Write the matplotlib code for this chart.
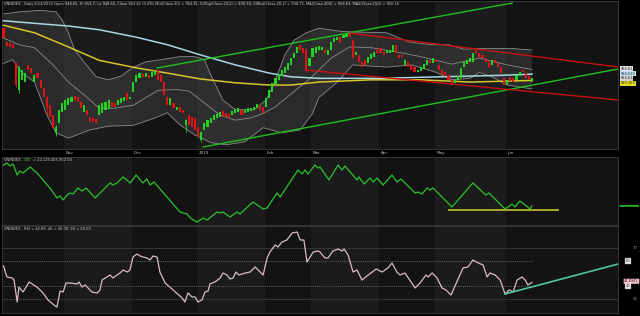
import numpy as np
import matplotlib
matplotlib.use("Agg")
import matplotlib.pyplot as plt
import matplotlib.transforms as mtransforms

# ---- VNINDEX daily candles, early Oct 2018 -> 14 Jun 2019 ----
opens = [1020, 1002, 1000, 999, 973, 937, 951, 948, 971, 967,
         948, 960, 951, 940, 928, 917, 904, 880, 893, 908,
         911, 917, 921, 929, 928, 921, 908, 911, 901, 900,
         898, 904, 906, 911, 912, 921, 920, 917, 920, 923,
         933, 925, 935, 948, 953, 959, 955, 957, 955, 957,
         964, 957, 948, 928, 917, 920, 911, 915, 911, 890,
         904, 901, 900, 888, 871, 884, 888, 893, 897, 900,
         901, 909, 906, 905, 904, 906, 908, 911, 907, 908,
         909, 911, 913, 917, 915, 915, 926, 935, 944, 951,
         956, 960, 964, 971, 980, 987, 998, 994, 991, 969,
         981, 987, 991, 991, 991, 984, 991, 1002, 1004, 1008,
         1007, 1008, 1014, 1004, 984, 984, 975, 977, 973, 979,
         981, 991, 993, 988, 987, 987, 988, 997, 984, 984,
         971, 975, 971, 968, 961, 963, 966, 971, 977, 973,
         978, 971, 964, 961, 957, 951, 947, 951, 953, 968,
         972, 975, 975, 993, 987, 984, 980, 975, 971, 977,
         973, 968, 953, 944, 955, 953, 951, 956, 964, 960,
         956, 948.65]
closes = [1007, 996, 995, 994, 944, 968, 964, 960, 964, 960,
          957, 953, 940, 928, 915, 901, 887, 888, 911, 920,
          924, 927, 928, 924, 921, 913, 917, 904, 895, 895,
          893, 917, 920, 921, 924, 914, 915, 924, 927, 928,
          924, 928, 948, 957, 960, 955, 960, 953, 962, 963,
          951, 948, 931, 917, 927, 913, 915, 908, 906, 897,
          891, 888, 884, 874, 881, 893, 897, 900, 904, 905,
          908, 903, 901, 900, 909, 912, 913, 904, 911, 913,
          913, 915, 919, 911, 907, 927, 937, 947, 953, 959,
          964, 968, 973, 980, 987, 995, 991, 987, 964, 980,
          993, 995, 996, 995, 987, 991, 1002, 1007, 1008, 1002,
          1011, 1014, 1008, 981, 988, 975, 968, 971, 981, 985,
          988, 987, 987, 984, 991, 991, 997, 987, 980, 981,
          977, 968, 964, 961, 964, 968, 972, 977, 973, 980,
          975, 964, 957, 957, 951, 944, 951, 956, 967, 975,
          977, 980, 987, 987, 981, 980, 975, 968, 977, 973,
          968, 960, 944, 951, 949, 948, 957, 961, 961, 953,
          951, 953.61]
wick_idx = [4, 5, 14, 17, 59, 64, 98, 113]
wick_lo = [941, 934, 905, 876, 881, 868, 962, 979]
wick_hi = [975, 970, 930, 891, 899, 882, 994, 1006]

month_start = [19.5, 41.5, 62.5, 84.5, 99.5, 121.5, 139.5, 162.5]
month_names = ["Nov", "Dec", "2019", "Feb", "Mar", "Apr", "May", "Jun"]

# ---- Bollinger (20,2) and moving averages ----
bb_top_x = [0, 5, 12, 17, 19, 21, 23, 26, 30, 34, 38, 42, 46, 51, 57, 62, 65, 67, 71, 75,
            81, 85, 88, 91, 94, 98, 102, 109, 113, 124, 131, 134, 139, 144, 149, 154, 164, 171]
bb_top = [1039, 1042, 1044, 1042, 1031, 1014, 991, 975, 955, 951, 956, 968, 975, 978, 982, 982, 978, 958, 924, 911,
          911, 924, 951, 984, 1004, 1014, 1020, 1016, 1015, 1014, 1002, 1000, 998, 998, 992, 993, 993, 990.9]
bb_mid_x = [0, 5, 10, 16, 21, 26, 31, 36, 42, 46, 50, 56, 60, 65, 70, 75, 80, 84, 88, 93,
            99, 106, 112, 119, 129, 135, 145, 154, 163, 171]
bb_mid = [1007, 998, 994, 971, 948, 931, 913, 913, 917, 927, 937, 938, 936, 920, 904, 897, 900, 906, 915, 932,
          952, 980, 995, 994, 987, 982, 972, 980, 971, 964.81]
bb_bot_x = [0, 3, 6, 10, 14, 17, 21, 28, 34, 42, 49, 53, 57, 62, 67, 72, 78, 84, 90, 96,
            100, 102, 108, 113, 124, 132, 140, 145, 151, 154, 158, 163, 171]
bb_bot = [973, 978, 960, 948, 904, 880, 873, 884, 889, 890, 900, 907, 891, 877, 867, 864, 868, 887, 880, 884,
          906, 927, 948, 971, 968, 971, 961, 951, 953, 961, 955, 944, 938.72]
ma200_x = [0, 21, 31, 43, 53, 64, 75, 86, 93, 102, 122, 141, 161, 171]
ma200 = [1030, 1023, 1018, 1008, 998, 984, 971, 960, 955, 953, 953, 955, 957, 958.63]
ma150_x = [0, 10, 21, 31, 43, 53, 64, 75, 86, 93, 102, 119, 135, 151, 171]
ma150 = [1024, 1014, 995, 977, 967, 960, 952, 947, 944, 944, 948, 951, 951, 948, 950.16]

# ---- drawn trend lines (bar index, price) ----
green_up_x, green_up = [49.7, 164.6], [966.8, 1053.8]
green_lo_x, green_lo = [64.6, 198.9], [861.1, 965.5]
red_up_x, red_up = [112.1, 198.9], [1013.6, 968.2]
red_lo_x, red_lo = [97.9, 198.9], [964.1, 924.0]

# ---- OBV (billions) ----
obv_x = [0, 1.1, 2.1, 3.1, 4.4, 5.3, 6.3, 8.6, 10.8, 12.8, 15, 17.3, 18.3, 19.3, 20.6, 21.5, 22.5, 24.1,
         25.4, 26.7, 29.6, 34.5, 35.4, 36.7, 38.7, 41, 42.9, 45.1, 46.4, 47.4, 48.7, 52.9, 57.1, 59.4,
         60.4, 62.6, 64.6, 65.9, 69.1, 70.1, 71, 73.3, 75.6, 76.5, 80.7, 84, 85.3, 88.5, 89.5, 95.3,
         96.6, 97.6, 98.5, 100.8, 101.8, 102.4, 105.3, 108.3, 109.5, 110.5, 114.4, 115, 116.7, 118.6,
         119.6, 120.9, 122.8, 125.7, 127.3, 128.6, 133.2, 134.1, 135.4, 137.1, 138, 139, 145.1, 151.9,
         156.1, 157.1, 162.3, 164.6, 165.5, 167.1, 170.4, 171]
obv = [24.18, 24.28, 24.13, 24.23, 23.68, 23.88, 23.78, 24.08, 23.78, 23.43, 23.03, 22.53, 22.63, 22.43,
       22.68, 22.78, 22.73, 23.03, 22.88, 23.03, 22.53, 23.28, 23.18, 23.28, 23.58, 23.28, 23.68, 23.28,
       23.48, 23.18, 23.33, 22.58, 21.83, 21.73, 21.53, 21.33, 21.53, 21.43, 21.83, 21.78, 21.83, 21.58,
       21.83, 21.73, 22.33, 21.98, 22.03, 22.78, 22.58, 23.93, 23.73, 23.93, 23.73, 24.18, 24.03, 24.08,
       23.43, 24.18, 23.93, 24.13, 23.43, 23.58, 23.23, 23.53, 23.33, 23.53, 23.18, 23.68, 23.33, 23.48,
       22.78, 22.83, 22.73, 23.03, 22.93, 23.03, 22.08, 23.28, 22.68, 22.78, 21.98, 22.23, 22.08, 22.38,
       21.98, 22.13]
obv_sup_x, obv_sup = [144, 179.4], [21.955, 21.955]

# ---- RSI(14) ----
rsi_x = [0, 1.1, 2.8, 3.4, 4.4, 5.0, 6.3, 8.3, 10.8, 12.8, 14.4, 16.7, 17.3, 18.3, 19.3, 20.2, 21.5,
         23.8, 24.4, 25.4, 26.4, 28.6, 30.3, 31.2, 31.9, 34.5, 35.4, 37.7, 38.7, 40.0, 40.9, 41.9, 43.2,
         44.2, 45.1, 46.4, 47.4, 48.4, 49.7, 50.6, 52.3, 54.9, 57.8, 58.7, 59.7, 61.0, 62.0, 62.9, 64.2,
         65.2, 66.2, 66.8, 68.4, 70.1, 71.0, 72.3, 73.3, 74.3, 75.2, 76.2, 78.2, 79.8, 81.4, 82.4, 84.0,
         85.3, 86.2, 87.9, 88.8, 90.1, 91.7, 93.4, 95.0, 96.0, 97.2, 98.2, 100.2, 101.8, 102.4, 104.0,
         105.0, 106.6, 108.3, 109.5, 110.2, 111.5, 113.1, 114.4, 116.0, 118.0, 119.3, 120.6, 122.5, 124.4,
         125.7, 127.3, 128.3, 129.9, 133.2, 134.8, 136.7, 137.4, 138.7, 140.3, 141.9, 143.2, 144.8, 148.7,
         150.3, 151.9, 153.6, 155.2, 156.5, 157.4, 159.1, 160.7, 162.3, 163.6, 164.9, 166.2, 167.8, 168.8,
         169.7, 171]
rsi = [56.0, 47.2, 46.4, 44.8, 27.2, 39.2, 35.2, 43.2, 39.2, 34.4, 28.8, 24.0, 23.2, 36.0, 35.2, 42.4, 42.4,
       41.6, 43.2, 39.2, 40.8, 35.2, 34.4, 36.8, 44.8, 48.8, 46.4, 50.4, 52.8, 51.2, 52.8, 63.2, 65.6,
       64.0, 63.2, 62.4, 60.8, 64.0, 63.2, 51.2, 42.4, 36.8, 30.4, 27.2, 34.4, 31.2, 31.2, 27.2, 28.8,
       35.2, 36.0, 41.6, 43.2, 46.4, 50.4, 48.8, 45.6, 46.4, 51.2, 48.8, 50.4, 51.2, 55.2, 52.8, 48.8,
       62.4, 67.2, 72.8, 71.2, 75.2, 76.8, 82.4, 83.2, 76.8, 76.8, 59.2, 67.2, 68.0, 67.2, 62.4,
       62.4, 68.0, 69.6, 68.0, 69.6, 64.8, 51.2, 52.8, 44.8, 48.8, 51.2, 53.6, 51.2, 54.4,
       58.4, 51.2, 48.8, 50.4, 38.4, 42.4, 48.8, 47.2, 50.4, 46.4, 38.4, 36.8, 32.8, 54.4,
       55.2, 60.8, 58.4, 56.8, 47.2, 50.4, 48.8, 44.8, 33.6, 36.8, 35.2, 44.8, 47.2, 44.8,
       40.8, 42.89]
rsi_tr_x, rsi_tr = [162.3, 198.9], [33.6, 57.6]

# ---- colours ----
BAR_UP = "#22d422"
BAR_DN = "#e01414"
BAND_DARK = "#131313"
BAND_LIGHT = "#1b1b1b"

W, H = 640, 316
fig = plt.figure(figsize=(W / 100, H / 100), dpi=100)
fig.patch.set_facecolor("black")


def panel(top, bottom):
    ax = fig.add_axes([2 / W, 1 - bottom / H, 616 / W, (bottom - top) / H])
    ax.set_xlim(-0.5, 198.85)
    edges = [-0.5] + month_start + [198.85]
    for k in range(len(edges) - 1):
        ax.axvspan(edges[k], edges[k + 1], color=BAND_LIGHT if k % 2 else BAND_DARK, lw=0, zorder=0)
    ax.set_xticks([])
    ax.set_yticks([])
    for s in ax.spines.values():
        s.set_color("#3c3c3c")
        s.set_linewidth(0.6)
    return ax


ax1 = panel(1, 149)
ax2 = panel(157, 225)
ax3 = panel(226, 313)

# ---------------- price panel ----------------
ax1.set_ylim(858.4, 1056.5)
ax1.fill(np.r_[bb_top_x, bb_bot_x[::-1]], np.r_[bb_top, bb_bot[::-1]],
         color="#505050", alpha=0.38, lw=0, zorder=1)
for xs, ys in [(bb_top_x, bb_top), (bb_mid_x, bb_mid), (bb_bot_x, bb_bot)]:
    ax1.plot(xs, ys, color="#8c8c8c", lw=0.6, zorder=2)
ax1.plot(ma200_x, ma200, color="#a9d6e6", lw=1.1, zorder=3)
ax1.plot(ma150_x, ma150, color="#d6c62a", lw=1.1, zorder=3)

o = np.array(opens)
c = np.array(closes)
idx = np.arange(len(o))
up = c >= o
w_col = [BAR_UP if up[i] else BAR_DN for i in wick_idx]
ax1.vlines(wick_idx, wick_lo, wick_hi, colors=w_col, lw=0.6, zorder=4)
ax1.bar(idx[up], (c - o)[up], bottom=o[up], width=0.68, color=BAR_UP, lw=0, zorder=5)
ax1.bar(idx[~up], (o - c)[~up], bottom=c[~up], width=0.68, color=BAR_DN, lw=0, zorder=5)

for xs, ys, col in [(green_up_x, green_up, "#1fbf1f"), (green_lo_x, green_lo, "#1fbf1f"),
                    (red_up_x, red_up, "#c81010"), (red_lo_x, red_lo, "#c81010")]:
    ax1.plot(xs, ys, color=col, lw=1.0, zorder=6)

header = ("VNINDEX - Daily 6/14/2019 Open 948.65, Hi 954.7, Lo 948.65, Close 953.61 (0.4%) "
          "Mid(Close,20) = 964.81, 00Top(Close,20,2) = 990.90, 00Bot(Close,20,2) = 938.72, "
          "MA(Close,200) = 958.63, MA2(Close,150) = 950.16")
ax1.text(0.003, 0.992, header, transform=ax1.transAxes, fontsize=2.6, color="#d0d0d0",
         va="top", ha="left", zorder=10)

# month labels in the strip below the price panel
trans = mtransforms.blended_transform_factory(ax1.transData, ax1.transAxes)
for xm, name in zip(month_start, month_names):
    ax1.text(xm + 0.6, -0.027, name, transform=trans, fontsize=3, color="#b8b8b8",
             va="center", ha="left", clip_on=False)

# right-hand value tags
rtrans = mtransforms.blended_transform_factory(ax1.transAxes, ax1.transData)
tag_vals = ["964.81", "958.629", "953.61", "950.163"]
tag_pos = [965.5, 959.0, 953.0, 946.5]
tag_bg = ["#e2e2e2", "#bfe6f0", "#d2d2d2", "#e6dc18"]
for txt, yv, bg in zip(tag_vals, tag_pos, tag_bg):
    ax1.text(1.004, yv, txt, transform=rtrans, fontsize=2.5, color="#202020", va="center",
             ha="left", clip_on=False,
             bbox=dict(boxstyle="square,pad=0.15", fc=bg, ec="none"))

# ---------------- OBV panel ----------------
ax2.set_ylim(21.18, 24.58)
ax2.plot(obv_x, obv, color="#2cc12c", lw=0.9, zorder=3)
ax2.plot(obv_sup_x, obv_sup, color="#a8a828", lw=1.4, zorder=2)
t1 = ax2.text(0.003, 0.985, "VNINDEX - ", transform=ax2.transAxes, fontsize=2.6,
              color="#d0d0d0", va="top", ha="left")
t2 = ax2.annotate("OBV", xy=(1, 0), xycoords=t1, fontsize=2.6, color="#2cd02c",
                  va="bottom", ha="left")
ax2.annotate(" = 22,129,405,952.00", xy=(1, 0), xycoords=t2, fontsize=2.6,
             color="#d0d0d0", va="bottom", ha="left")
otrans = mtransforms.blended_transform_factory(ax2.transAxes, ax2.transData)
ax2.text(1.003, obv[-1], "22,129,405,952.00", transform=otrans, fontsize=1.45, color="#0a3a0a",
         va="center", ha="left", clip_on=False,
         bbox=dict(boxstyle="round,pad=0.2", fc="#28c828", ec="none"))

# ---------------- RSI panel ----------------
ax3.set_ylim(18.4, 88)
for lev in (70, 30):
    ax3.axhline(lev, color="#3a3a3a", lw=0.6, zorder=1)
for lev in (60, 40):
    ax3.plot([-0.5, 171], [lev, lev], color="#7a7a7a", lw=0.6, ls=(0, (1, 1.5)), zorder=1)
ax3.plot(rsi_x, rsi, color="#d9bcc4", lw=0.9, zorder=3)
ax3.plot(rsi_tr_x, rsi_tr, color="#52c4a4", lw=1.2, zorder=4)
ax3.text(0.003, 0.985, "VNINDEX - RSI = 42.89, 40 = 40.00, 60 = 60.00", transform=ax3.transAxes,
         fontsize=2.6, color="#d0d0d0", va="top", ha="left")
rt = mtransforms.blended_transform_factory(ax3.transAxes, ax3.transData)
for lev in (70, 30):
    ax3.text(1.024, lev, str(lev), transform=rt, fontsize=2.6, color="#a0a0a0",
             va="center", ha="left", clip_on=False)
for lev in (60, 40):
    ax3.text(1.012, lev, str(lev), transform=rt, fontsize=2.6, color="#202020", va="center",
             ha="left", clip_on=False,
             bbox=dict(boxstyle="square,pad=0.2", fc="#eeeeee", ec="#888888", lw=0.3))
ax3.text(1.01, 43.8, "42.8941", transform=rt, fontsize=2.5, color="#5a1020", va="center",
         ha="left", clip_on=False,
         bbox=dict(boxstyle="round,pad=0.15", fc="#f2c4cc", ec="none"))

fig.savefig("out.png", dpi=100, facecolor="black")
